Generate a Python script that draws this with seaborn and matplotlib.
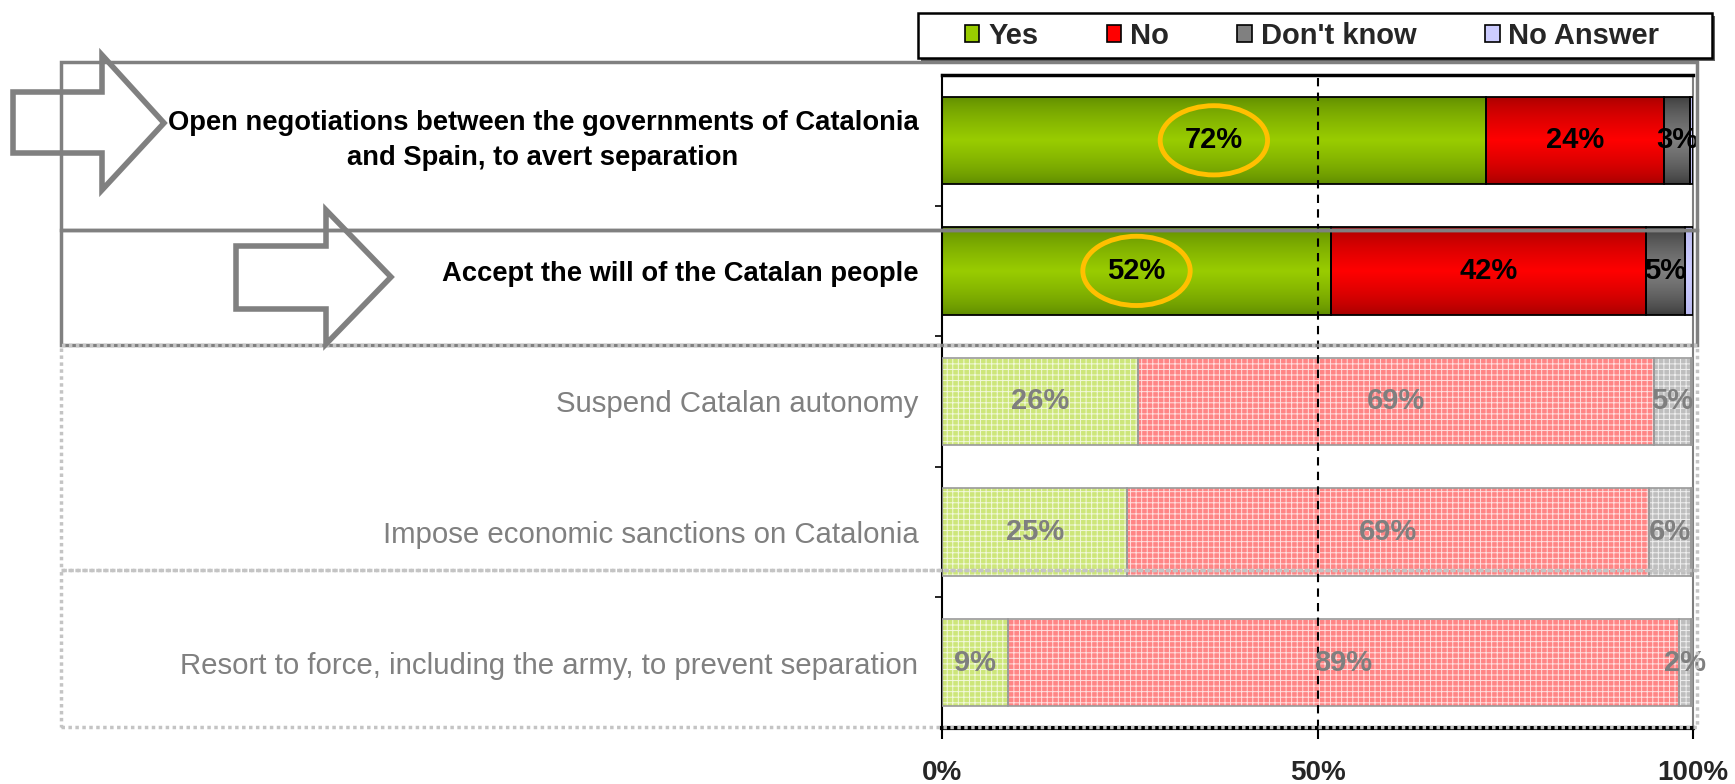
import numpy as np
import pandas as pd
import matplotlib
matplotlib.use("Agg")
import matplotlib.pyplot as plt
import seaborn as sns
from matplotlib.patches import Polygon, Rectangle, Ellipse, Patch
from matplotlib.colors import to_rgb

# ---------------- data ----------------
categories = [
    "Open negotiations between the governments of Catalonia\nand Spain, to avert separation",
    "Accept the will of the Catalan people",
    "Suspend Catalan autonomy",
    "Impose economic sanctions on Catalonia",
    "Resort to force, including the army, to prevent separation",
]
series_names = ["Yes", "No", "Don't know", "No Answer"]
yes_vals = [72.4, 51.8, 26.1, 24.7, 8.8]
no_vals = [23.8, 41.9, 68.7, 69.4, 89.3]
dk_vals = [3.4, 5.3, 4.9, 5.6, 1.6]
na_vals = [0.4, 1.0, 0.3, 0.3, 0.3]
highlighted = [True, True, False, False, False]
circled_rows = [0, 1]
x_ticks = [0, 50, 100]
x_tick_labels = ["0%", "50%", "100%"]

# ---------------- style ----------------
W, H = 1735, 784
sns.set_theme(style="white")
plt.rcParams["font.family"] = ["Liberation Sans", "DejaVu Sans"]
plt.rcParams["hatch.linewidth"] = 0.7

center_cols = ["#99CC00", "#FF0000", "#808080", "#CCCCFF"]
edge_cols = ["#5E8A00", "#A50000", "#3A3A3A", "#B8B8F0"]
faded_cols = ["#CDE67A", "#FF8585", "#BEBEBE", "#E6E6FF"]
FS_BOLD_CAT = 19.7
FS_GRAY_CAT = 21.2
FS_VAL = 21
FS_LEG = 21
FS_X = 20

df = pd.DataFrame({"category": categories, "Yes": yes_vals, "No": no_vals,
                   "Don't know": dk_vals, "No Answer": na_vals})
vals = np.array([yes_vals, no_vals, dk_vals, na_vals])
lefts = np.vstack([np.zeros(len(categories)), np.cumsum(vals, axis=0)[:-1]])

fig = plt.figure(figsize=(W / 100, H / 100), dpi=100)
ax = fig.add_axes([942 / W, 1 - 728 / H, (1693 - 942) / W, (728 - 75) / H])


def px(x, y):
    return (x / W, 1 - y / H)


def gradient_fill(patch, c_edge, c_center, z):
    x0, y0 = patch.get_x(), patch.get_y()
    w, h = patch.get_width(), patch.get_height()
    t = np.linspace(0, 1, 80)
    prof = (1 - np.abs(2 * t - 1)) ** 0.7
    ce, cc = np.array(to_rgb(c_edge)), np.array(to_rgb(c_center))
    img = ce[None, :] * (1 - prof[:, None]) + cc[None, :] * prof[:, None]
    img = img[:, None, :]
    im = ax.imshow(img, extent=(x0, x0 + w, y0 + h, y0), aspect="auto",
                   interpolation="bilinear", zorder=z)
    im.set_clip_path(patch)


for k, name in enumerate(series_names):
    sns.barplot(data=df, x=name, y="category", orient="h", left=lefts[k],
                width=0.67, color=center_cols[k], saturation=1, ax=ax)
    cont = ax.containers[-1]
    for j, p in enumerate(cont.patches):
        if highlighted[j]:
            gradient_fill(p, edge_cols[k], center_cols[k], 2)
            p.set_facecolor("none")
            p.set_edgecolor("black")
            p.set_linewidth(1.3)
            p.set_zorder(3)
        else:
            p.set_facecolor(faded_cols[k])
            p.set_edgecolor((1, 1, 1, 0.75))
            p.set_linewidth(0)
            p.set_hatch("+++")
            p.set_zorder(2)
            ax.add_patch(Rectangle((p.get_x(), p.get_y()), p.get_width(), p.get_height(),
                                   fill=False, edgecolor="#9A9A9A", linewidth=1.2, zorder=3))

# value labels
for k in range(3):
    for j in range(len(categories)):
        v = vals[k, j]
        ax.text(lefts[k, j] + v / 2, j, f"{v:.0f}%", ha="center", va="center",
                fontsize=FS_VAL, fontweight="bold",
                color="black" if highlighted[j] else "#7F7F7F", zorder=6)

# circles around key "Yes" values
for j in circled_rows:
    ax.add_patch(Ellipse((yes_vals[j] / 2, j), width=14.3, height=0.53, fill=False,
                         edgecolor="#FFC000", linewidth=3.5, zorder=7))

ax.axvline(50, color="black", linestyle=(0, (4, 3)), linewidth=1.5, zorder=5)

ax.set_xlim(0, 100)
ax.set_ylim(len(categories) - 0.5, -0.5)
ax.set_xlabel("")
ax.set_ylabel("")
ax.set_xticks(x_ticks)
ax.set_xticklabels(x_tick_labels, fontsize=FS_X, fontweight="bold")
ax.set_yticks(range(len(categories)))
ax.set_yticklabels(categories)
for j, lab in enumerate(ax.get_yticklabels()):
    lab.set_multialignment("center")
    lab.set_linespacing(1.45)
    if "\n" in lab.get_text():
        lab.set_verticalalignment("center")
    if highlighted[j]:
        lab.set_fontweight("bold")
        lab.set_fontsize(FS_BOLD_CAT)
        lab.set_color("black")
    else:
        lab.set_fontsize(FS_GRAY_CAT)
        lab.set_color("#808080")
ax.set_yticks(np.arange(0.5, len(categories) - 1, 1), minor=True)
ax.tick_params(axis="y", which="major", length=0, pad=17)
ax.tick_params(axis="y", which="minor", length=5, width=1.2, color="black", direction="out", left=True)
ax.tick_params(axis="x", which="major", length=8, width=1.5, color="black", direction="out",
               bottom=True, pad=15)
ax.grid(False)
for s, lw, c in [("bottom", 3, "black"), ("left", 1.5, "black"), ("top", 2.5, "black"),
                 ("right", 1.5, "#808080")]:
    ax.spines[s].set_visible(True)
    ax.spines[s].set_linewidth(lw)
    ax.spines[s].set_color(c)

# group boxes
for (y0, y1, col, ls) in [(62, 230, "#808080", "-"), (230, 345, "#808080", "-"),
                          (345, 570, "#C4C4C4", (0, (1, 1))), (570, 727, "#C4C4C4", (0, (1, 1)))]:
    x0f, y1f = px(61, y1)
    fig.patches.append(Rectangle((x0f, y1f), (1697 - 61) / W, (y1 - y0) / H, fill=False,
                                 edgecolor=col, linewidth=2.5, linestyle=ls,
                                 transform=fig.transFigure, figure=fig, zorder=8))

# arrows
for pts in [[(13, 92), (102, 92), (102, 55), (164, 123), (102, 190), (102, 153), (13, 153)],
            [(236, 246), (326, 246), (326, 210), (391, 277), (326, 344), (326, 309), (236, 309)]]:
    fig.patches.append(Polygon([px(x, y) for x, y in pts], closed=True, fill=False,
                               edgecolor="#808080", linewidth=4, joinstyle="miter",
                               transform=fig.transFigure, figure=fig, zorder=9))

# legend box
x0f, y1f = px(918, 58)
fig.patches.append(Rectangle((x0f + 3 / W, y1f - 3 / H), 794 / W, 45 / H, facecolor="#606060",
                             edgecolor="none", transform=fig.transFigure, figure=fig, zorder=9))
fig.patches.append(Rectangle((x0f, y1f), 794 / W, 45 / H, facecolor="white",
                             edgecolor="black", linewidth=1.8,
                             transform=fig.transFigure, figure=fig, zorder=10))
handles = [Patch(facecolor=c, edgecolor="black", linewidth=1.2) for c in center_cols]
leg = fig.legend(handles, series_names, loc="center", bbox_to_anchor=px(1312, 36), ncol=4,
                 frameon=False, prop=dict(weight="bold", size=FS_LEG), handlelength=0.5,
                 handleheight=0.5, handletextpad=0.3, columnspacing=2.35)
leg.set_zorder(11)

fig.savefig("out.png", dpi=100)
